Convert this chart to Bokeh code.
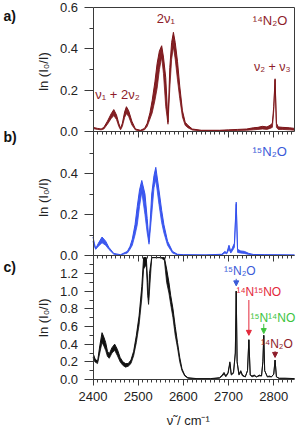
import math
import numpy as np
from bokeh.plotting import figure
from bokeh.models import (Range1d, FixedTicker, PrintfTickFormatter, Label, Arrow, NormalHead,
                          ColumnDataSource, LinearAxis)
from bokeh.embed import file_html
from bokeh.resources import INLINE

FONT = "Liberation Sans"

# ---------------- data ----------------
# Panel a: 14N2O  (wavenumber, lower and upper envelope of the overlaid spectra)
a_x = [2400, 2410, 2418, 2424, 2432, 2440, 2446, 2452, 2457, 2461, 2465, 2470, 2474, 2479, 2486, 2494,
       2505, 2514, 2520, 2526, 2531, 2537, 2542, 2547, 2552, 2556, 2561, 2566, 2570, 2574, 2578, 2582,
       2587, 2592, 2598, 2604, 2610, 2620, 2640, 2680, 2700, 2720, 2740, 2755, 2765, 2775, 2785, 2792,
       2797, 2800, 2803, 2806, 2810, 2820, 2835, 2846]
a_hi = [0.020, 0.015, 0.012, 0.020, 0.050, 0.085, 0.106, 0.080, 0.040, 0.015, 0.040, 0.095, 0.120, 0.100, 0.050, 0.012,
        0.006, 0.015, 0.040, 0.090, 0.150, 0.240, 0.330, 0.390, 0.415, 0.360, 0.260, 0.045, 0.310, 0.430, 0.480, 0.430,
        0.340, 0.220, 0.100, 0.045, 0.030, 0.012, 0.006, 0.006, 0.008, 0.010, 0.012, 0.018, 0.020, 0.025, 0.022, 0.030,
        0.040, 0.120, 0.255, 0.040, 0.022, 0.020, 0.018, 0.015]
a_lo = [0.014, 0.010, 0.008, 0.012, 0.035, 0.062, 0.077, 0.058, 0.025, 0.008, 0.025, 0.068, 0.087, 0.072, 0.032, 0.007,
        0.003, 0.008, 0.025, 0.060, 0.090, 0.150, 0.210, 0.300, 0.360, 0.280, 0.120, 0.035, 0.210, 0.350, 0.410, 0.350,
        0.250, 0.160, 0.070, 0.030, 0.018, 0.007, 0.003, 0.003, 0.004, 0.005, 0.006, 0.008, 0.010, 0.012, 0.010, 0.015,
        0.020, 0.100, 0.250, 0.020, 0.010, 0.010, 0.008, 0.006]

# Panel b: 15N2O
b_x = [2400, 2403, 2406, 2412, 2420, 2428, 2435, 2446, 2461, 2476, 2482, 2487, 2493, 2498, 2503, 2508,
       2515, 2520, 2524, 2530, 2535, 2539, 2546, 2552, 2557, 2565, 2576, 2587, 2600, 2650, 2685, 2692,
       2696, 2701, 2705, 2709, 2713, 2717, 2720, 2727, 2735, 2745, 2755, 2780, 2846]
b_hi = [0.090, 0.060, 0.034, 0.060, 0.090, 0.070, 0.040, 0.010, 0.004, 0.020, 0.045, 0.080, 0.150, 0.240, 0.320, 0.366,
        0.300, 0.180, 0.065, 0.300, 0.390, 0.430, 0.320, 0.220, 0.150, 0.070, 0.020, 0.006, 0.004, 0.003, 0.006, 0.020,
        0.012, 0.050, 0.020, 0.040, 0.060, 0.260, 0.030, 0.022, 0.020, 0.010, 0.005, 0.004, 0.003]
b_lo = [0.070, 0.045, 0.030, 0.045, 0.062, 0.050, 0.030, 0.006, 0.002, 0.012, 0.030, 0.050, 0.100, 0.150, 0.240, 0.310,
        0.200, 0.110, 0.055, 0.200, 0.330, 0.370, 0.250, 0.160, 0.110, 0.050, 0.012, 0.003, 0.002, 0.002, 0.003, 0.012,
        0.008, 0.030, 0.012, 0.025, 0.040, 0.250, 0.015, 0.012, 0.010, 0.005, 0.003, 0.002, 0.001]

# Panel c: natural-abundance sample
c_x = [2400, 2404, 2410, 2415, 2420, 2424, 2428, 2432, 2436, 2442, 2448, 2454, 2460, 2466, 2472, 2478,
       2484, 2490, 2496, 2502, 2508, 2512, 2518, 2521, 2523, 2525, 2530, 2540, 2550, 2558, 2563, 2568,
       2572, 2577, 2582, 2587, 2592, 2597, 2603, 2610, 2630, 2660, 2680, 2686, 2690, 2694, 2699, 2703,
       2706, 2711, 2715, 2717, 2719, 2723, 2727, 2731, 2737, 2742, 2745, 2748, 2752, 2757, 2762, 2768,
       2773, 2776, 2778, 2780, 2786, 2790, 2795, 2800, 2803, 2806, 2812, 2825, 2846]
c_hi = [0.300, 0.240, 0.200, 0.380, 0.530, 0.480, 0.420, 0.320, 0.290, 0.360, 0.400, 0.340, 0.250, 0.200, 0.180, 0.180,
        0.220, 0.320, 0.500, 0.720, 1.050, 1.400, 1.500, 1.100, 0.900, 1.200, 1.600, 1.800, 1.800, 1.500, 1.250, 1.100,
        0.950, 0.800, 0.600, 0.420, 0.250, 0.120, 0.050, 0.020, 0.010, 0.010, 0.020, 0.050, 0.080, 0.040, 0.080, 0.200,
        0.060, 0.080, 0.300, 1.000, 0.200, 0.060, 0.100, 0.050, 0.030, 0.100, 0.450, 0.050, 0.040, 0.050, 0.030, 0.050,
        0.040, 0.200, 0.500, 0.100, 0.030, 0.040, 0.030, 0.060, 0.220, 0.030, 0.015, 0.015, 0.010]
c_lo = [0.250, 0.200, 0.180, 0.300, 0.420, 0.380, 0.330, 0.260, 0.240, 0.300, 0.330, 0.270, 0.200, 0.160, 0.140, 0.150,
        0.180, 0.270, 0.420, 0.620, 0.920, 1.250, 1.300, 0.950, 0.850, 1.000, 1.500, 1.700, 1.700, 1.350, 1.100, 0.980,
        0.850, 0.700, 0.500, 0.360, 0.200, 0.100, 0.040, 0.015, 0.008, 0.008, 0.015, 0.040, 0.060, 0.030, 0.070, 0.180,
        0.050, 0.070, 0.300, 1.000, 0.200, 0.050, 0.080, 0.040, 0.030, 0.100, 0.450, 0.050, 0.030, 0.040, 0.030, 0.040,
        0.040, 0.200, 0.500, 0.100, 0.030, 0.030, 0.030, 0.060, 0.220, 0.030, 0.010, 0.010, 0.005]

x_ticks = [2400, 2500, 2600, 2700, 2800]
x_minor = list(range(2400, 2846, 10))
X_BOUNDS = (2400, 2846)

a_yticks = [0.0, 0.2, 0.4, 0.6]
a_yminor = [0.1, 0.3, 0.5]
b_yticks = [0.0, 0.2, 0.4]
b_yminor = [0.1, 0.3, 0.5]
c_yticks = [0.0, 0.2, 0.4, 0.6, 0.8, 1.0, 1.2]
c_yminor = [0.1, 0.3, 0.5, 0.7, 0.9, 1.1, 1.3]
A_TOP, B_TOP, C_TOP = 0.6, 0.58, 1.38

RED = "#7c1519"
RED_TXT = "#8e1c2a"
BLUE = "#3350ee"
BLUE_TXT = "#3a5ad8"
PINK = "#e3283a"
GREEN = "#3cc43c"
AX = "#3a3a3a"
TXT = "#222222"

W, H = 298, 430
# horizontal placement: 2400 at 92.5 px, 0.4518 px per cm-1
PXX = 0.4518
x_start = 2400 - 92.5 / PXX
x_end = 2400 + (W - 92.5) / PXX


def yrange(zero_px, px_per_unit):
    return Range1d((zero_px - H) / px_per_unit, zero_px / px_per_unit)


p = figure(width=W, height=H, x_range=Range1d(x_start, x_end), y_range=Range1d(0, H),
           output_backend="svg", toolbar_location=None,
           x_axis_location=None, y_axis_location=None,
           min_border=0, min_border_left=0, min_border_right=0, min_border_top=0, min_border_bottom=0)
p.grid.visible = False
p.outline_line_color = None
p.background_fill_color = "white"
p.border_fill_color = "white"
p.extra_y_ranges = {"a": yrange(131, 206.7), "b": yrange(255, 205.0), "c": yrange(379, 88.33)}


def y_axis(rname, yt, ym, top):
    ax = LinearAxis(y_range_name=rname, fixed_location=2400, bounds=(0, top),
                    ticker=FixedTicker(ticks=yt, minor_ticks=ym),
                    formatter=PrintfTickFormatter(format="%.1f"))
    ax.major_tick_out = 9
    ax.major_tick_in = 0
    ax.minor_tick_out = 4
    ax.minor_tick_in = 0
    ax.axis_line_color = AX
    ax.major_tick_line_color = AX
    ax.minor_tick_line_color = AX
    ax.major_label_text_font = FONT
    ax.major_label_text_font_size = "13px"
    ax.major_label_text_color = TXT
    ax.major_label_standoff = 6
    p.add_layout(ax, "left")


def x_axis(rname, labels):
    ax = LinearAxis(y_range_name=rname, fixed_location=0, bounds=X_BOUNDS,
                    ticker=FixedTicker(ticks=x_ticks, minor_ticks=x_minor),
                    formatter=PrintfTickFormatter(format="%d"))
    ax.major_tick_out = 6
    ax.major_tick_in = 0
    ax.minor_tick_out = 3
    ax.minor_tick_in = 0
    ax.axis_line_color = AX
    ax.major_tick_line_color = AX
    ax.minor_tick_line_color = AX
    ax.major_label_text_font = FONT
    ax.major_label_text_font_size = "13px"
    ax.major_label_standoff = 6
    ax.major_label_text_color = TXT if labels else None
    p.add_layout(ax, "below")


def band(rname, xs, lo, hi, color, alpha=0.95):
    src = ColumnDataSource(dict(x=xs, lo=lo, hi=hi))
    p.varea(x="x", y1="lo", y2="hi", source=src, fill_color=color, fill_alpha=alpha, y_range_name=rname)
    p.line(x="x", y="hi", source=src, line_color=color, line_width=1, y_range_name=rname)
    p.line(x="x", y="lo", source=src, line_color=color, line_width=0.8, y_range_name=rname)


def lab(rname, x, y, text, color, size="13px", align="center", style="normal", baseline="middle", angle=0.0):
    p.add_layout(Label(x=x, y=y, y_range_name=rname, text=text, text_font=FONT, text_font_size=size,
                       text_color=color, text_align=align, text_baseline=baseline,
                       text_font_style=style, angle=angle))


def arrow(rname, x, y0, y1, color):
    p.add_layout(Arrow(end=NormalHead(size=5, fill_color=color, line_color=color),
                       x_start=x, y_start=y0, x_end=x, y_end=y1, y_range_name=rname,
                       line_color=color, line_width=1))


YLABEL = "ln (I\u2080/I)"

# ---------------- panel a ----------------
band("a", a_x, a_lo, a_hi, RED)
y_axis("a", a_yticks, a_yminor, A_TOP)
x_axis("a", False)
# box: top and right edges of panel a
top_ax = LinearAxis(y_range_name="a", fixed_location=A_TOP, bounds=X_BOUNDS,
                    ticker=FixedTicker(ticks=[], minor_ticks=[]))
top_ax.axis_line_color = AX
top_ax.major_label_text_color = None
p.add_layout(top_ax, "above")
right_ax = LinearAxis(y_range_name="a", fixed_location=X_BOUNDS[1], bounds=(0, A_TOP),
                      ticker=FixedTicker(ticks=[], minor_ticks=[]))
right_ax.axis_line_color = AX
right_ax.major_label_text_color = None
p.add_layout(right_ax, "right")

lab("a", 2290, 0.29, YLABEL, TXT, angle=math.pi / 2)
lab("a", 2405, 0.179, "\u03bd\u2081 + 2\u03bd\u2082", RED_TXT, align="left")
lab("a", 2561, 0.548, "2\u03bd\u2081", RED_TXT)
lab("a", 2792, 0.536, "\u00b9\u2074N\u2082O", RED_TXT)
lab("a", 2797, 0.31, "\u03bd\u2082 + \u03bd\u2083", RED_TXT, size="12.5px")
lab("a", 2202, 0.561, "a)", "#111111", size="14px", align="left", style="bold")
lab("a", 2202, -0.029, "b)", "#111111", size="14px", align="left", style="bold")

# ---------------- panel b ----------------
band("b", b_x, b_lo, b_hi, BLUE)
y_axis("b", b_yticks, b_yminor, B_TOP)
x_axis("b", False)
lab("b", 2290, 0.283, YLABEL, TXT, angle=math.pi / 2)
lab("b", 2791, 0.507, "\u00b9\u2075N\u2082O", BLUE_TXT)
lab("b", 2202, -0.054, "c)", "#111111", size="14px", align="left", style="bold")

# ---------------- panel c ----------------
c_hi_clip = np.minimum(np.array(c_hi), C_TOP)
c_lo_clip = np.minimum(np.array(c_lo), C_TOP)
band("c", c_x, c_lo_clip, c_hi_clip, "#111111", alpha=1.0)
y_axis("c", c_yticks, c_yminor, C_TOP)
x_axis("c", True)
lab("c", 2290, 0.70, YLABEL, TXT, angle=math.pi / 2)
lab("c", 2611, -0.464, "\u03bd\u0303 / cm\u207b\u00b9", TXT)
lab("c", 2725, 1.223, "\u00b9\u2075N\u2082O", BLUE_TXT, size="12px")
arrow("c", 2717, 1.14, 1.06, BLUE_TXT)
lab("c", 2767, 0.985, "\u00b9\u2074N\u00b9\u2075NO", PINK, size="12px")
arrow("c", 2745, 0.90, 0.50, PINK)
lab("c", 2798, 0.70, "\u00b9\u2075N\u00b9\u2074NO", GREEN, size="12px")
arrow("c", 2778, 0.63, 0.52, GREEN)
lab("c", 2807, 0.40, "\u00b9\u2074N\u2082O", RED_TXT, size="12px")
arrow("c", 2803, 0.32, 0.25, RED_TXT)

open("out.html", "w").write(file_html(p, INLINE))
